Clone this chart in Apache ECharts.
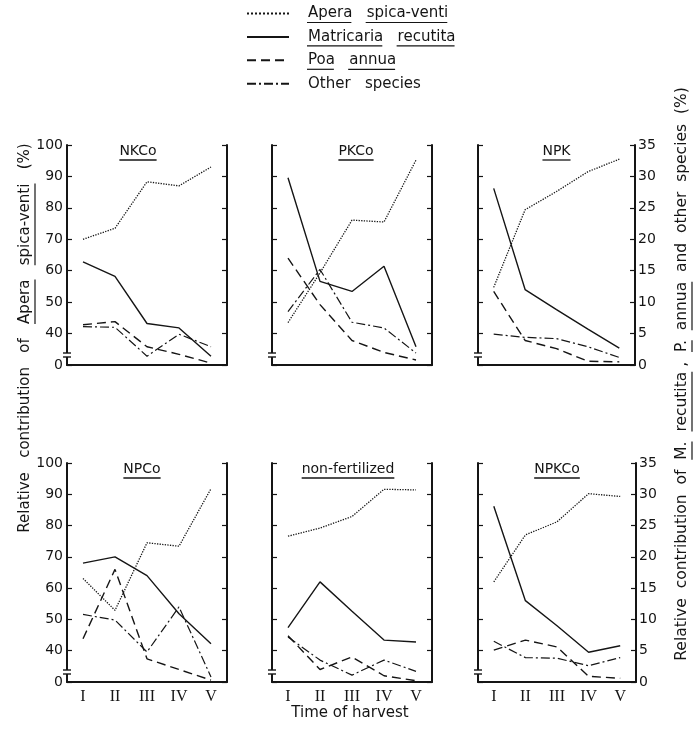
<!DOCTYPE html>
<html>
<head>
<meta charset="utf-8">
<script src="https://cdn.jsdelivr.net/npm/echarts@6/dist/echarts.min.js"></script>
<style>html,body{margin:0;padding:0;background:#fff}#c{width:700px;height:731px}</style>
</head>
<body>
<div id="c"></div>
<script>
// ---------- DATA ----------
const categories = ['I', 'II', 'III', 'IV', 'V'];
const panelTitles = ['NKCo', 'PKCo', 'NPK', 'NPCo', 'non-fertilized', 'NPKCo'];
const speciesNames = ['Apera spica-venti', 'Matricaria recutita', 'Poa annua', 'Other species'];
const leftTickLabels = ['0', '40', '50', '60', '70', '80', '90', '100'];
const rightTickLabels = ['0', '5', '10', '15', '20', '25', '30', '35'];

// NKCo
const NKCo_apera = [70, 73.5, 88.3, 87, 93];
const NKCo_matricaria = [16.4, 14.1, 6.6, 5.9, 1.4];
const NKCo_poa = [6.4, 6.9, 2.9, 1.7, 0.3];
const NKCo_other = [6.1, 6.0, 1.4, 4.9, 2.9];
// PKCo
const PKCo_apera = [43.5, 59.3, 76.1, 75.5, 95.2];
const PKCo_matricaria = [29.8, 13.3, 11.7, 15.7, 2.9];
const PKCo_poa = [17.0, 9.6, 3.9, 2.0, 0.8];
const PKCo_other = [8.5, 15.2, 6.8, 5.9, 1.9];
// NPK
const NPK_apera = [54.7, 79.4, 85.2, 91.5, 95.5];
const NPK_matricaria = [28.1, 12.0, 8.8, 5.7, 2.7];
const NPK_poa = [11.7, 3.9, 2.6, 0.6, 0.5];
const NPK_other = [4.9, 4.4, 4.2, 2.9, 1.2];
// NPCo
const NPCo_apera = [63.1, 52.9, 74.5, 73.4, 91.8];
const NPCo_matricaria = [19.0, 20.0, 17.0, 10.9, 6.1];
const NPCo_poa = [6.9, 18.0, 3.7, 2.0, 0.3];
const NPCo_other = [10.8, 9.9, 4.8, 12.0, 0.8];
// non-fertilized
const NF_apera = [76.6, 79.2, 82.9, 91.6, 91.4];
const NF_matricaria = [8.7, 16.0, 11.3, 6.7, 6.4];
const NF_poa = [7.4, 2.0, 4.0, 1.0, 0.2];
const NF_other = [7.2, 3.5, 1.1, 3.5, 1.7];
// NPKCo
const NPKCo_apera = [62, 77, 81.2, 90.2, 89.3];
const NPKCo_matricaria = [28.1, 13.0, 9.0, 4.75, 5.8];
const NPKCo_poa = [5.1, 6.7, 5.6, 0.9, 0.6];
const NPKCo_other = [6.5, 3.9, 3.8, 2.6, 3.9];

const panelData = [
  [NKCo_apera, NKCo_matricaria, NKCo_poa, NKCo_other],
  [PKCo_apera, PKCo_matricaria, PKCo_poa, PKCo_other],
  [NPK_apera, NPK_matricaria, NPK_poa, NPK_other],
  [NPCo_apera, NPCo_matricaria, NPCo_poa, NPCo_other],
  [NF_apera, NF_matricaria, NF_poa, NF_other],
  [NPKCo_apera, NPKCo_matricaria, NPKCo_poa, NPKCo_other]
];

// ---------- LAYOUT / STYLE ----------
const INK = '#151515';
const FONT = 'DejaVu Sans';
const grids = [
  {left: 67, top: 145, width: 160, height: 220},
  {left: 272, top: 145, width: 160, height: 220},
  {left: 478, top: 145, width: 157, height: 220},
  {left: 67, top: 463, width: 160, height: 219},
  {left: 272, top: 463, width: 160, height: 219},
  {left: 478, top: 463, width: 158, height: 219}
];
const titleShift = [-9, 4, 0, -5, -4, 0];
const lineStyles = [
  {type: 'dotted', width: 1.3},
  {type: 'solid', width: 1.4},
  {type: [9, 5], width: 1.4},
  {type: [9, 3, 2, 3], width: 1.2}
];

const cvs = document.createElement('canvas');
const ctx = cvs.getContext('2d');
function measure(str, font) { ctx.font = font; return ctx.measureText(str).width; }

// text with underlined words, laid along local x, centered at 0
function underlinedRun(pieces, sep, fontSize, ulOffset) {
  const font = fontSize + 'px "' + FONT + '"';
  const full = pieces.map(p => p[0]).join(sep);
  const total = measure(full, font);
  const x0 = -total / 2;
  const children = [{
    type: 'text', x: x0, y: 0,
    style: {text: full, font: font, fill: INK, textAlign: 'left', align: 'left', textVerticalAlign: 'middle', verticalAlign: 'middle'}
  }];
  let prefix = '';
  pieces.forEach((p, k) => {
    if (k > 0) prefix += sep;
    if (p[1]) {
      const a = x0 + measure(prefix, font);
      const b = a + measure(p[0].replace(/\s*,$/, ''), font);
      children.push({type: 'line', shape: {x1: a, y1: ulOffset, x2: b, y2: ulOffset}, style: {stroke: INK, lineWidth: 1.2}});
    }
    prefix += p[0];
  });
  return children;
}

const xAxes = [], yAxes = [], series = [], titles = [], graphics = [];
grids.forEach((g, i) => {
  const col = i % 3, row = Math.floor(i / 3);
  xAxes.push({
    type: 'category', gridIndex: i, data: categories, boundaryGap: true,
    axisLine: {lineStyle: {color: INK, width: 2}},
    axisTick: {inside: true, alignWithLabel: true, length: 5, lineStyle: {color: INK, width: 1.2}},
    axisLabel: {show: row === 1, fontFamily: 'Liberation Serif', fontSize: 16, color: INK, margin: 7},
    splitLine: {show: false}
  });
  yAxes.push({
    type: 'value', gridIndex: i, position: 'left', min: 30, max: 100, interval: 10,
    axisLine: {show: true, lineStyle: {color: INK, width: 2}},
    axisTick: {show: true, inside: true, length: 5, lineStyle: {color: INK, width: 1.2}},
    splitLine: {show: false},
    axisLabel: {show: col === 0, margin: 4, fontFamily: FONT, fontSize: 14, color: INK,
      formatter: v => leftTickLabels[Math.round((v - 30) / 10)]}
  });
  yAxes.push({
    type: 'value', gridIndex: i, position: 'right', min: 0, max: 35, interval: 5,
    axisLine: {show: true, lineStyle: {color: INK, width: 2}},
    axisTick: {show: true, inside: true, length: 5, lineStyle: {color: INK, width: 1.2}},
    splitLine: {show: false},
    axisLabel: {show: col === 2, margin: 3, fontFamily: FONT, fontSize: 14, color: INK,
      formatter: v => rightTickLabels[Math.round(v / 5)]}
  });
  panelData[i].forEach((arr, s) => {
    series.push({
      type: 'line', name: speciesNames[s], xAxisIndex: i, yAxisIndex: s === 0 ? 2 * i : 2 * i + 1,
      data: arr, symbol: 'none', silent: true,
      lineStyle: Object.assign({color: INK}, lineStyles[s]),
      itemStyle: {color: INK}
    });
  });
  // panel title
  const cx = g.left + g.width / 2 + titleShift[i];
  titles.push({
    text: panelTitles[i], left: cx, top: g.top - 1, textAlign: 'center', padding: 0,
    textStyle: {fontFamily: FONT, fontSize: 14, fontWeight: 'normal', color: INK}
  });
  const tw = measure(panelTitles[i], '14px "' + FONT + '"');
  graphics.push({type: 'line', z: 100, shape: {x1: cx - tw / 2, y1: g.top + 15, x2: cx + tw / 2, y2: g.top + 15}, style: {stroke: INK, lineWidth: 1.3}});
  // axis break mark on left axis
  const by = g.top + g.height - 10;
  graphics.push({type: 'rect', z: 100, shape: {x: g.left - 3, y: by - 2, width: 6, height: 4}, style: {fill: '#fff'}});
  graphics.push({type: 'line', z: 101, shape: {x1: g.left - 4, y1: by - 2, x2: g.left + 4, y2: by - 2}, style: {stroke: INK, lineWidth: 1.4}});
  graphics.push({type: 'line', z: 101, shape: {x1: g.left - 4, y1: by + 2, x2: g.left + 4, y2: by + 2}, style: {stroke: INK, lineWidth: 1.4}});
});

titles.push({
  text: 'Time of harvest', left: 350, top: 706, textAlign: 'center', padding: 0,
  textStyle: {fontFamily: FONT, fontSize: 15, fontWeight: 'normal', color: INK}
});

// rotated axis titles
graphics.push({
  type: 'group', x: 25, y: 338, rotation: Math.PI / 2, z: 100,
  children: underlinedRun([['Relative', 0], ['contribution', 0], ['of', 0], ['Apera', 1], ['spica-venti', 1], ['(%)', 0]], '   ', 15, 10)
});
graphics.push({
  type: 'group', x: 682, y: 374, rotation: Math.PI / 2, z: 100,
  children: underlinedRun([['Relative', 0], ['contribution', 0], ['of', 0], ['M.', 1], ['recutita ,', 1], ['P.', 1], ['annua', 1], ['and', 0], ['other', 0], ['species', 0], ['(%)', 0]], '  ', 15.5, 10)
});

// legend underlines
const LEG_LEFT = 246, LEG_TOP = 6, LEG_IW = 42, LEG_IH = 14, LEG_GAP = 8.4, LEG_PAD = 14, LEG_FS = 15;
const LEG_ROW = 15 + LEG_GAP;
const legendText = n => n.replace(' ', '   ');
const legFont = LEG_FS + 'px "' + FONT + '"';
speciesNames.forEach((n, k) => {
  if (k === 3) return;
  const words = n.split(' ');
  const tx = LEG_LEFT + LEG_IW + 5 + LEG_PAD;
  const ty = LEG_TOP + k * LEG_ROW + 7.5 + 9;
  const w0 = measure(words[0], legFont);
  const wsep = measure(words[0] + '   ', legFont);
  const w1 = measure(words[1], legFont);
  graphics.push({type: 'line', z: 100, shape: {x1: tx, y1: ty, x2: tx + w0, y2: ty}, style: {stroke: INK, lineWidth: 1.2}});
  graphics.push({type: 'line', z: 100, shape: {x1: tx + wsep, y1: ty, x2: tx + wsep + w1, y2: ty}, style: {stroke: INK, lineWidth: 1.2}});
});

const chart = echarts.init(document.getElementById('c'), null, {renderer: 'canvas'});
chart.setOption({
  animation: false,
  backgroundColor: '#fff',
  title: titles,
  legend: {
    data: speciesNames, orient: 'vertical', left: LEG_LEFT, top: LEG_TOP,
    itemWidth: LEG_IW, itemHeight: LEG_IH, itemGap: LEG_GAP, padding: 0,
    formatter: legendText, selectedMode: false,
    itemStyle: {opacity: 0, color: 'rgba(0,0,0,0)', borderColor: 'rgba(0,0,0,0)', borderWidth: 0},
    textStyle: {fontFamily: FONT, fontSize: LEG_FS, color: INK, padding: [0, 0, 0, LEG_PAD]}
  },
  grid: grids,
  xAxis: xAxes,
  yAxis: yAxes,
  series: series,
  graphic: {elements: graphics}
});
</script>
</body>
</html>
